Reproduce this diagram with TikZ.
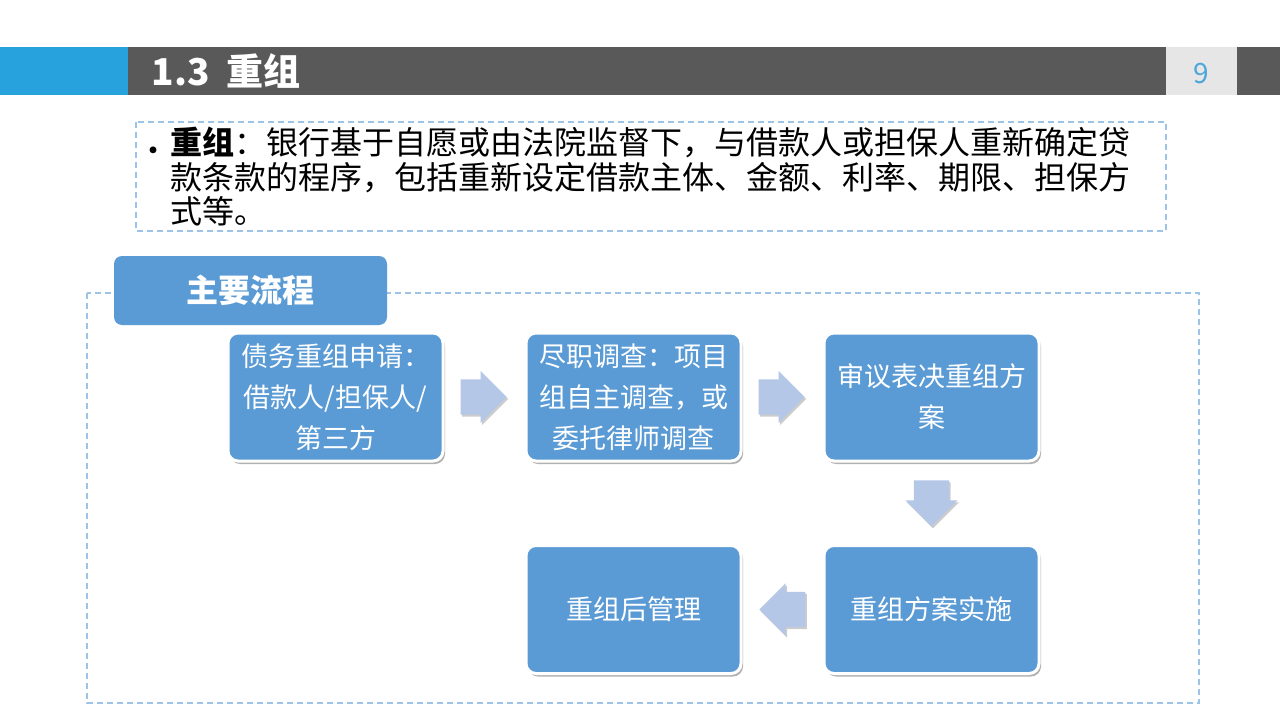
\documentclass[tikz,border=0pt]{standalone}
\usepackage{fontspec}
\setmainfont{Noto Sans CJK SC}
\usetikzlibrary{shapes.arrows,shadows,calc}
\definecolor{rzhead}{HTML}{27A2DC}
\definecolor{rzgrey}{HTML}{595959}
\definecolor{rzpage}{HTML}{E7E6E6}
\definecolor{rznum}{HTML}{4BA6DC}
\definecolor{rzbox}{HTML}{5B9BD5}
\definecolor{rzarrow}{HTML}{B4C7E7}
\definecolor{rzdash}{HTML}{9DC3E6}

\begin{document}
\begin{tikzpicture}[x=1pt,y=-1pt,
  dashframe/.style={draw=rzdash,line width=1.2pt,dash pattern=on 6pt off 4pt},
  stepbox/.style={draw=white,line width=3pt,fill=rzbox,rounded corners=10pt,
    minimum width=215pt,minimum height=128pt,inner sep=0pt,align=center,
    text=white,font=\fontsize{27}{41}\selectfont,
    drop shadow={shadow xshift=2pt,shadow yshift=-3pt,opacity=0.3,fill=black}},
  flowarr/.style={single arrow,fill=rzarrow,anchor=tail,inner xsep=0pt,inner ysep=17.5pt,
    minimum height=46pt,minimum width=52pt,single arrow head extend=8.5pt,
    drop shadow={shadow xshift=1.5pt,shadow yshift=-2pt,opacity=0.2,fill=black}},
  flowdown/.style={flowarr,inner xsep=17.5pt,inner ysep=0pt,shape border rotate=270}]
  \useasboundingbox[fill=white] (0,0) rectangle (1280,720);
  % header
  \fill[rzhead] (0,47) rectangle (128,95);
  \fill[rzgrey] (128,47) rectangle (1280,95);
  \fill[rzpage] (1166,47) rectangle (1237,95);
  \node[anchor=west,text=white,font=\fontsize{37}{40}\selectfont\bfseries] (title) at (148,71) {1.3\ \ 重组};
  \node[text=rznum,font=\fontsize{28}{30}\selectfont] (pagenum) at (1201,74) {9};
  % definition
  \draw[dashframe] (136,122) rectangle (1166,231);
  \node[font=\fontsize{32}{34}\selectfont] (dot) at (153,155) {•};
  \node[anchor=north west,align=left,inner sep=0pt,font=\fontsize{32}{34.5}\selectfont] (defn) at (170,127)
    {\textbf{重组}：银行基于自愿或由法院监督下，与借款人或担保人重新确定贷\\
     款条款的程序，包括重新设定借款主体、金额、利率、期限、担保方\\
     式等。};
  % main process frame
  \draw[dashframe] (87,293) rectangle (1199,703);
  \node[fill=rzbox,rounded corners=8pt,minimum width=273pt,minimum height=69pt,
    text=white,font=\fontsize{32}{34}\selectfont\bfseries] (tab) at (250.5,290.5) {主要流程};
  % steps
  \node[stepbox] (appl) at (335.5,397) {债务重组申请：\\借款人/担保人/\\第三方};
  \node[stepbox] (dilig) at (633.5,397) {尽职调查：项目\\组自主调查，或\\委托律师调查};
  \node[stepbox] (vote) at (931.5,397) {审议表决重组方\\案};
  \node[stepbox] (impl) at (931.5,609.5) {重组方案实施};
  \node[stepbox] (post) at (633.5,609.5) {重组后管理};
  % arrows
  \node[flowarr] (ar1) at ($(appl.east)!0.5!(dilig.west)+(-24,0)$) {};
  \node[flowarr] (ar2) at ($(dilig.east)!0.5!(vote.west)+(-24,0)$) {};
  \node[flowdown] (ar3) at ($(vote.south)!0.5!(impl.north)+(0,-23)$) {};
  \node[flowarr,shape border rotate=180] (ar4) at ($(impl.west)!0.5!(post.east)+(23,0)$) {};
\end{tikzpicture}
\end{document}
